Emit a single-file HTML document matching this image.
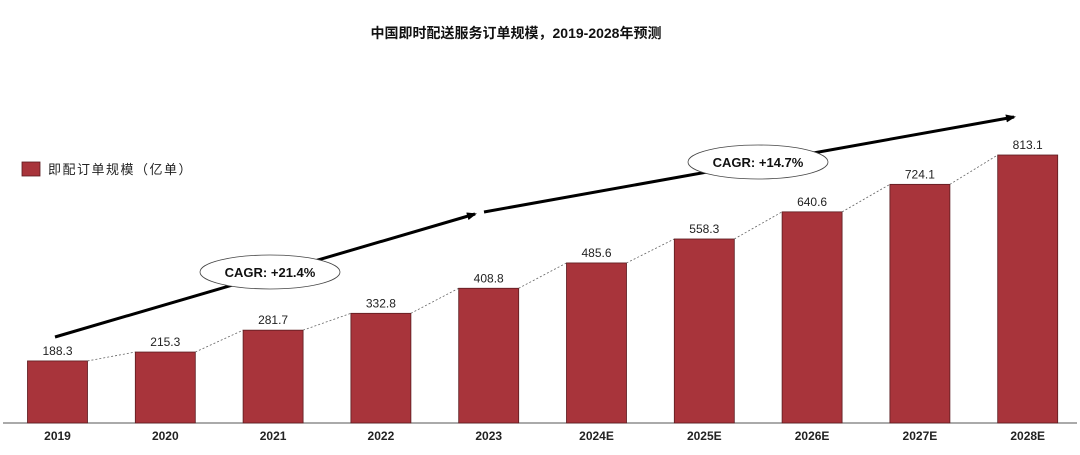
<!DOCTYPE html>
<html><head><meta charset="utf-8"><style>
html,body{margin:0;padding:0;background:#fff;}
svg{display:block;}
text{font-family:"Liberation Sans","Noto Sans CJK SC",sans-serif;}
</style></head><body>
<svg width="1080" height="455" viewBox="0 0 1080 455" xmlns="http://www.w3.org/2000/svg">
<defs>
<marker id="ah" markerWidth="10" markerHeight="8" refX="8" refY="4" orient="auto" markerUnits="userSpaceOnUse">
<path d="M0,0 L10,4 L0,8 Z" fill="#000"/>
</marker>
</defs>
<text x="516" y="38" font-size="14" font-weight="bold" text-anchor="middle" fill="#111">中国即时配送服务订单规模，2019-2028年预测</text>
<rect x="22" y="162" width="18" height="14" fill="#a8343b" stroke="#5a1a1e" stroke-width="0.8"/>
<text x="48" y="174" font-size="13" letter-spacing="1.5" fill="#222" font-family="Noto Sans CJK SC, sans-serif">即配订单规模（亿单）</text>
<line x1="3" y1="423" x2="1077" y2="423" stroke="#555" stroke-width="1"/>
<g id="bars"></g>
<line x1="55" y1="337" x2="475" y2="214" stroke="#000" stroke-width="3" marker-end="url(#ah)"/>
<line x1="484" y1="212" x2="1014" y2="117" stroke="#000" stroke-width="3" marker-end="url(#ah)"/>
<ellipse cx="270" cy="272" rx="70" ry="17" fill="#fff" stroke="#444" stroke-width="0.8"/>
<text x="270" y="277" font-size="13" font-weight="bold" text-anchor="middle" fill="#111">CAGR: +21.4%</text>
<ellipse cx="758" cy="162" rx="70" ry="17" fill="#fff" stroke="#444" stroke-width="0.8"/>
<text x="758" y="167" font-size="13" font-weight="bold" text-anchor="middle" fill="#111">CAGR: +14.7%</text>
</svg>
<script>
var d=[["2019",188.3],["2020",215.3],["2021",281.7],["2022",332.8],["2023",408.8],["2024E",485.6],["2025E",558.3],["2026E",640.6],["2027E",724.1],["2028E",813.1]];
var g=document.getElementById("bars"),s="";
var prev=null;
d.forEach(function(e,i){
 var x=27.5+i*107.8,top=423-e[1]*0.3296,h=423-top;
 if(prev){s+='<line x1="'+prev[0]+'" y1="'+prev[1]+'" x2="'+x+'" y2="'+top+'" stroke="#666" stroke-width="0.8" stroke-dasharray="2,2"/>';}
 s+='<rect x="'+x+'" y="'+top+'" width="60" height="'+h+'" fill="#a8343b" stroke="#5a1a1e" stroke-width="0.8"/>';
 s+='<text x="'+(x+30)+'" y="'+(top-6)+'" font-size="12" text-anchor="middle" fill="#222">'+e[1].toFixed(1)+'</text>';
 s+='<text x="'+(x+30)+'" y="440" font-size="12" font-weight="600" text-anchor="middle" fill="#222">'+e[0]+'</text>';
 prev=[x+60,top];
});
g.innerHTML=s;
</script>
</body></html>
